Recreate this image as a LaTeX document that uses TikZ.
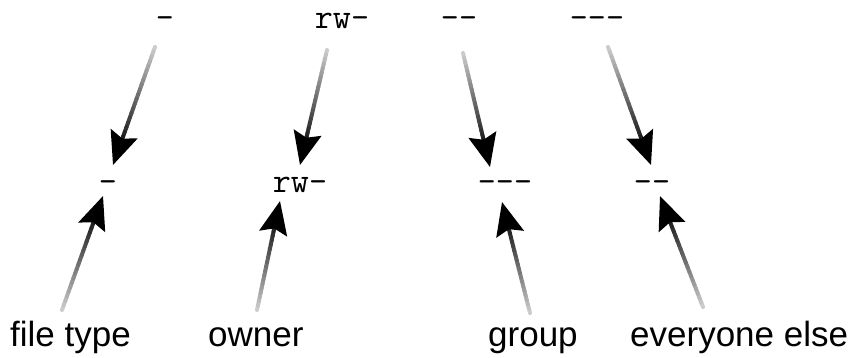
\documentclass[tikz,border=0pt]{standalone}
\usepackage{fontspec}
\setmainfont{Liberation Sans}
\usetikzlibrary{arrows.meta,calc}
\tikzset{
  perm/.style={font=\ttfamily\fontsize{35}{40}\selectfont, anchor=base, inner sep=0pt},
  lbl/.style={font=\fontsize{35}{40}\selectfont, anchor=base west, inner sep=0pt},
  headtip/.style={line width=4pt, black, -{Stealth[length=33pt,width=28pt,inset=5pt]}},
}
\newcommand{\gradarrow}[2]{%
  \foreach \i [evaluate=\i as \c using 20+3.6*\i] in {0,...,19}
    \draw[line width=4pt, line cap=round, color=black!\c]
      ($(#1)!{\i*0.04}!(#2)$) -- ($(#1)!{(\i+1)*0.04}!(#2)$);
  \draw[headtip] ($(#1)!0.79!(#2)$) -- (#2);
}
\begin{document}
\begin{tikzpicture}[x=1pt,y=-1pt]
\useasboundingbox (0,0) rectangle (853,358);
% top row
\node[perm] (t1) at (165,29) {-};
\node[perm] (t2) at (342,29) {rw-};
\node[perm] (t3) at (459,29) {--};
\node[perm] (t4) at (597,29) {---};
% middle row
\node[perm] (m1) at (108,193) {-};
\node[perm] (m2) at (300,193) {rw-};
\node[perm] (m3) at (505,193) {---};
\node[perm] (m4) at (652,193) {--};
% labels
\node[lbl] (l1) at (10,346) {file type};
\node[lbl] (l2) at (208,346) {owner};
\node[lbl] (l3) at (488,346) {group};
\node[lbl] (l4) at (630,346) {everyone else};
% arrow ends
\coordinate (a1s) at (155,47);  \coordinate (a1e) at (113,165);
\coordinate (a2s) at (327,50);  \coordinate (a2e) at (300,165);
\coordinate (a3s) at (463,53);  \coordinate (a3e) at (490,167);
\coordinate (a4s) at (608,47);  \coordinate (a4e) at (651,165);
\coordinate (b1s) at (62,310);  \coordinate (b1e) at (103,196);
\coordinate (b2s) at (257,310); \coordinate (b2e) at (280,201);
\coordinate (b3s) at (530,313); \coordinate (b3e) at (502,202);
\coordinate (b4s) at (703,307); \coordinate (b4e) at (660,196);
\gradarrow{a1s}{a1e}
\gradarrow{a2s}{a2e}
\gradarrow{a3s}{a3e}
\gradarrow{a4s}{a4e}
\gradarrow{b1s}{b1e}
\gradarrow{b2s}{b2e}
\gradarrow{b3s}{b3e}
\gradarrow{b4s}{b4e}
\end{tikzpicture}
\end{document}
